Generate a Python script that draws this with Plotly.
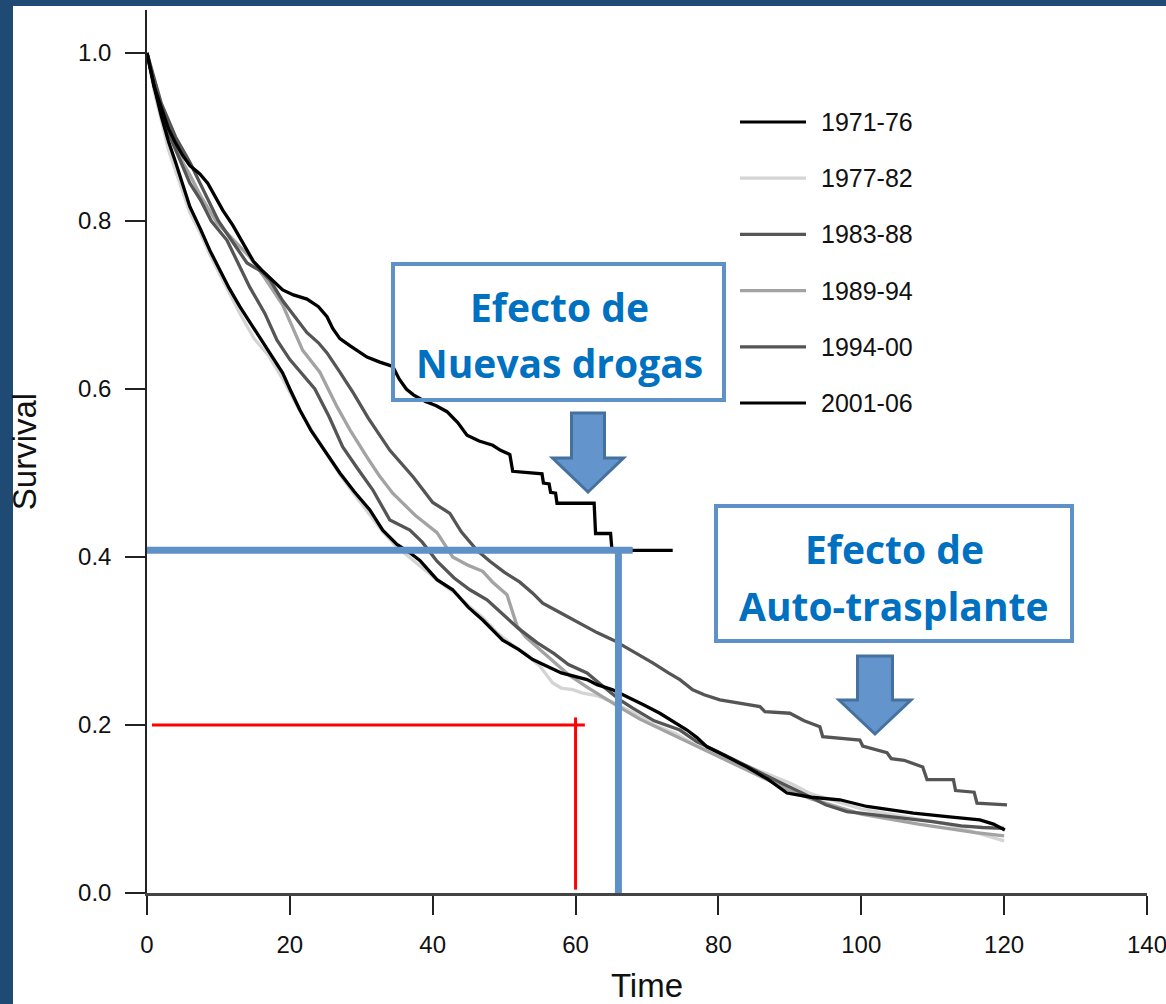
import plotly.graph_objects as go

# Kaplan-Meier survival by diagnosis period (time in months)
periods = ["1971-76", "1977-82", "1983-88", "1989-94", "1994-00", "2001-06"]
period_colors = ["#000000", "#d4d4d4", "#555555", "#a3a3a3", "#555555", "#000000"]

t_1971 = [0, 1, 2, 3, 4, 5, 6, 7.5, 8.8, 10, 11.5, 13, 15.4, 17, 19, 20, 21.4, 23, 25, 27, 29,
          31.2, 33, 35, 36.8, 38.2, 40.6, 42.8, 45, 47, 49.8, 52, 54, 56, 58, 61.6, 63, 65.2,
          67.2, 69.5, 71.8, 73.5, 75.6, 77, 78.4, 81, 84, 87, 89.6, 93, 97, 100.8, 104, 107.3,
          112, 116.6, 118.5, 120.1]
s_1971 = [1.0, 0.96, 0.925, 0.895, 0.87, 0.845, 0.817, 0.79, 0.765, 0.745, 0.72, 0.698, 0.667,
          0.645, 0.619, 0.6, 0.575, 0.55, 0.525, 0.5, 0.478, 0.456, 0.432, 0.415, 0.405, 0.396,
          0.373, 0.361, 0.34, 0.325, 0.301, 0.29, 0.278, 0.27, 0.262, 0.254, 0.248, 0.242, 0.234,
          0.224, 0.214, 0.205, 0.194, 0.185, 0.174, 0.163, 0.15, 0.135, 0.119, 0.114, 0.111,
          0.103, 0.099, 0.095, 0.091, 0.087, 0.082, 0.075]

t_1977 = [0, 1, 2, 3, 4, 5, 6, 7.5, 8.8, 10, 11.5, 13, 15, 17, 19, 21, 23, 25, 27, 29, 31, 33,
          35, 37, 39, 41, 43, 45, 47, 49, 51, 53, 55, 56.8, 58, 59.6, 61, 63, 65, 68, 71, 74, 77,
          80, 83, 86, 88, 90, 93, 96, 100, 104, 108, 112, 116, 120]
s_1977 = [1.0, 0.955, 0.92, 0.885, 0.86, 0.835, 0.81, 0.785, 0.76, 0.74, 0.715, 0.69, 0.66,
          0.64, 0.612, 0.58, 0.552, 0.525, 0.498, 0.475, 0.452, 0.43, 0.412, 0.398, 0.383, 0.37,
          0.358, 0.342, 0.328, 0.31, 0.296, 0.285, 0.27, 0.25, 0.244, 0.242, 0.238, 0.235, 0.228,
          0.215, 0.2, 0.19, 0.175, 0.165, 0.155, 0.145, 0.138, 0.131, 0.118, 0.11, 0.1, 0.094,
          0.088, 0.082, 0.072, 0.062]

t_1983 = [0, 1, 2, 3, 4, 5, 6, 7.5, 9, 11.2, 12.8, 14.4, 16.5, 18.2, 20, 21.5, 23.5, 25.5, 27.4,
          29.5, 31.6, 34, 36.8, 38.5, 40.6, 43, 45.2, 47.6, 50, 52, 54.6, 57, 59, 61.6, 64, 66.2,
          68, 71, 74.6, 77, 80, 83, 86, 89, 92, 95, 98, 102, 106, 110, 114, 117, 120]
s_1983 = [1.0, 0.965, 0.935, 0.905, 0.885, 0.865, 0.845, 0.825, 0.8, 0.777, 0.75, 0.721, 0.69,
          0.658, 0.635, 0.62, 0.6, 0.567, 0.531, 0.505, 0.48, 0.444, 0.432, 0.418, 0.395, 0.375,
          0.361, 0.349, 0.33, 0.315, 0.298, 0.285, 0.272, 0.262, 0.245, 0.23, 0.22, 0.205, 0.194,
          0.18, 0.168, 0.155, 0.142, 0.13, 0.118, 0.105, 0.097, 0.093, 0.089, 0.085, 0.08, 0.078,
          0.077]

t_1989 = [0, 1, 2, 3, 4, 5, 6, 7.5, 9.8, 12, 14.4, 16.5, 19, 21.8, 24.2, 26.6, 28.5, 30.8, 32.5,
          34.4, 37.5, 40.6, 42.8, 45, 47, 48.4, 50.4, 51.8, 53, 55, 57, 59, 61.6, 64, 66.2, 69,
          72, 75, 78, 81, 84, 87, 90, 93, 96, 100, 104, 108, 112, 116, 120]
s_1989 = [1.0, 0.965, 0.935, 0.91, 0.89, 0.87, 0.855, 0.83, 0.798, 0.778, 0.757, 0.732, 0.7,
          0.646, 0.62, 0.579, 0.55, 0.519, 0.497, 0.476, 0.45, 0.429, 0.4, 0.39, 0.383, 0.37,
          0.355, 0.318, 0.305, 0.29, 0.275, 0.26, 0.245, 0.232, 0.221, 0.207, 0.195, 0.183, 0.17,
          0.158, 0.147, 0.135, 0.122, 0.112, 0.104, 0.094, 0.088, 0.082, 0.077, 0.072, 0.068]

t_1994 = [0, 2, 4, 6, 8, 10, 12, 14, 16, 17.2, 19, 21, 22.4, 24, 25.2, 27, 28.9, 31, 34, 37.3, 40,
          42.4, 44, 46.2, 48, 50, 52.2, 54, 55.4, 58, 60.6, 63, 65.3, 68, 70.8, 73, 74.6, 76.4,
          78, 80.2, 83, 85.8, 86.5, 90, 92, 94.2, 94.6, 97, 99.8, 100.2, 103.6, 104.2, 106,
          108.6, 109.2, 112.9, 113.2, 115.8, 116.2, 120.4]
s_1994 = [1.0, 0.94, 0.9, 0.87, 0.835, 0.8, 0.775, 0.75, 0.74, 0.73, 0.705, 0.682, 0.667, 0.655,
          0.643, 0.62, 0.595, 0.565, 0.527, 0.495, 0.465, 0.452, 0.43, 0.408, 0.395, 0.382, 0.37,
          0.357, 0.345, 0.333, 0.321, 0.31, 0.301, 0.288, 0.274, 0.262, 0.254, 0.242, 0.236,
          0.23, 0.226, 0.222, 0.216, 0.214, 0.205, 0.198, 0.186, 0.184, 0.182, 0.175, 0.167,
          0.16, 0.158, 0.15, 0.135, 0.135, 0.122, 0.12, 0.107, 0.105]

# the small recent cohort: listed with its visible event steps
t_2001 = [0, 1, 2, 3, 4, 5, 6, 7.4, 8.5, 9.5, 10.6, 12, 13.5, 14.9, 16, 17.5, 19, 20.5, 22.4,
          24, 25.2, 26, 27, 28.5, 30.8, 32.6, 34.4, 35.3, 36.3, 37.3, 39, 40.5, 42, 43.5, 44.8,
          46.5, 48.4, 49.5, 50.8, 51.2, 55.3, 55.5, 56.3, 56.5, 57.2, 57.4, 62.6, 62.8, 64.9,
          65.1, 73.6]
s_2001 = [1.0, 0.96, 0.935, 0.91, 0.893, 0.878, 0.866, 0.856, 0.845, 0.83, 0.813, 0.795, 0.773,
          0.752, 0.742, 0.73, 0.718, 0.712, 0.707, 0.698, 0.686, 0.672, 0.66, 0.651, 0.638,
          0.632, 0.627, 0.612, 0.6, 0.593, 0.585, 0.58, 0.573, 0.56, 0.545, 0.538, 0.533, 0.527,
          0.522, 0.502, 0.499, 0.488, 0.487, 0.477, 0.476, 0.464, 0.464, 0.428, 0.428, 0.408,
          0.408]

series = {
    "1971-76": (t_1971, s_1971),
    "1977-82": (t_1977, s_1977),
    "1983-88": (t_1983, s_1983),
    "1989-94": (t_1989, s_1989),
    "1994-00": (t_1994, s_1994),
    "2001-06": (t_2001, s_2001),
}

x_ticks = [0, 20, 40, 60, 80, 100, 120, 140]
y_ticks = [0.0, 0.2, 0.4, 0.6, 0.8, 1.0]

# guide lines: 5-year (60 months) survival, and the 2001-06 plateau
red_guide_time, red_guide_surv = 60, 0.2
blue_guide_time, blue_guide_surv = 66, 0.408

NAVY = "#1f4a74"
BOX_BLUE = "#5f91c9"
ARROW_FILL = "#6494cc"
ARROW_EDGE = "#44719e"
TEXT_BLUE = "#0070c0"

W, H = 1166, 1004
ML, MR, MT, MB = 147, 19, 10, 111
PW, PH = W - ML - MR, H - MT - MB


def px(xp):
    return (xp - ML) / PW


def py(yp):
    return (H - MB - yp) / PH


fig = go.Figure()

draw_order = ["1977-82", "1989-94", "1983-88", "1994-00", "1971-76", "2001-06"]
for name in draw_order:
    t, s = series[name]
    fig.add_trace(go.Scatter(
        x=t, y=s, name=name, mode="lines",
        line=dict(color=period_colors[periods.index(name)], width=3.3),
        showlegend=False,
    ))

shapes = []
annotations = []

# white page area inside the navy frame
shapes.append(dict(type="rect", xref="paper", yref="paper",
                   x0=px(13), x1=px(W + 5), y0=py(H + 5), y1=py(6),
                   fillcolor="white", line=dict(width=0), layer="below"))

# legend drawn as line samples with labels
leg_y0, leg_dy = 122, 56.2
for i, name in enumerate(periods):
    yy = py(leg_y0 + i * leg_dy)
    shapes.append(dict(type="line", xref="paper", yref="paper",
                       x0=px(740), x1=px(806), y0=yy, y1=yy,
                       line=dict(color=period_colors[i], width=3.2)))
    annotations.append(dict(xref="paper", yref="paper", x=px(819), y=yy,
                            text=name, showarrow=False, xanchor="left", yanchor="middle",
                            font=dict(family="Liberation Sans, Arial", size=25, color="#111")))

# red guide at 60 months
shapes.append(dict(type="line", xref="x", yref="y", x0=0.7, x1=61.3,
                   y0=red_guide_surv, y1=red_guide_surv, line=dict(color="#ff0000", width=3)))
shapes.append(dict(type="line", xref="x", yref="y", x0=red_guide_time, x1=red_guide_time,
                   y0=0.004, y1=0.209, line=dict(color="#ff0000", width=3)))

# blue guide at the 2001-06 plateau
shapes.append(dict(type="line", xref="x", yref="y", x0=0, x1=68.0,
                   y0=blue_guide_surv, y1=blue_guide_surv, line=dict(color=BOX_BLUE, width=7)))
shapes.append(dict(type="line", xref="x", yref="y", x0=blue_guide_time, x1=blue_guide_time,
                   y0=-0.006, y1=blue_guide_surv + 0.004, line=dict(color=BOX_BLUE, width=7)))


def box(x0, y0, x1, y1):
    shapes.append(dict(type="rect", xref="paper", yref="paper",
                       x0=px(x0), x1=px(x1), y0=py(y1), y1=py(y0),
                       line=dict(color=BOX_BLUE, width=4), fillcolor="rgba(0,0,0,0)"))


def down_arrow(cx, top, head_top, tip, shaft_w, head_w):
    pts = [(cx - shaft_w / 2, top), (cx + shaft_w / 2, top), (cx + shaft_w / 2, head_top),
           (cx + head_w / 2, head_top), (cx, tip), (cx - head_w / 2, head_top),
           (cx - shaft_w / 2, head_top)]
    path = "M " + " L ".join(f"{px(a):.5f},{py(b):.5f}" for a, b in pts) + " Z"
    shapes.append(dict(type="path", xref="paper", yref="paper", path=path,
                       fillcolor=ARROW_FILL, line=dict(color=ARROW_EDGE, width=3)))


def label(cx, cy, text):
    annotations.append(dict(xref="paper", yref="paper", x=px(cx), y=py(cy), text=f"<b>{text}</b>",
                            showarrow=False, xanchor="center", yanchor="middle",
                            font=dict(family="Open Sans, Noto Sans, sans-serif", size=39,
                                      color=TEXT_BLUE)))


box(393, 264, 724, 400)
label(559, 306, "Efecto de")
label(559, 362, "Nuevas drogas")
down_arrow(588, 413, 458, 492, 33, 71)

box(716, 506, 1072, 641)
label(894, 549, "Efecto de")
label(894, 605, "Auto-trasplante")
down_arrow(875, 656, 700, 734, 35, 72)

tick_font = dict(family="Liberation Sans, Arial", size=24, color="#111")

fig.update_layout(
    width=W, height=H,
    margin=dict(l=ML, r=MR, t=MT, b=MB, pad=0, autoexpand=False),
    paper_bgcolor=NAVY, plot_bgcolor="white",
    shapes=shapes, annotations=annotations,
    showlegend=False,
    xaxis=dict(range=[0, 140], tickvals=x_ticks, ticktext=[str(v) for v in x_ticks],
               automargin=False, ticklabeloverflow="allow",
               showgrid=False, zeroline=False, showline=True, linecolor="#444", linewidth=2.5,
               ticks="outside", ticklen=19, tickwidth=1.5, tickcolor="#222",
               tickfont=tick_font, ticklabelstandoff=9,
               title=dict(text="Time", font=dict(family="Liberation Sans, Arial", size=33,
                                                 color="#111"), standoff=38)),
    yaxis=dict(range=[0, (H - MB - MT) / 840], tickvals=y_ticks,
               ticktext=[f"{v:.1f}" for v in y_ticks],
               automargin=False, ticklabeloverflow="allow",
               showgrid=False, zeroline=False, showline=True, linecolor="#222", linewidth=1.5,
               ticks="outside", ticklen=20, tickwidth=1.5, tickcolor="#222",
               tickfont=tick_font, ticklabelstandoff=9,
               title=dict(text="Survival", font=dict(family="Liberation Sans, Arial", size=33,
                                                     color="#111"), standoff=32)),
)

fig.write_html("out.html")
